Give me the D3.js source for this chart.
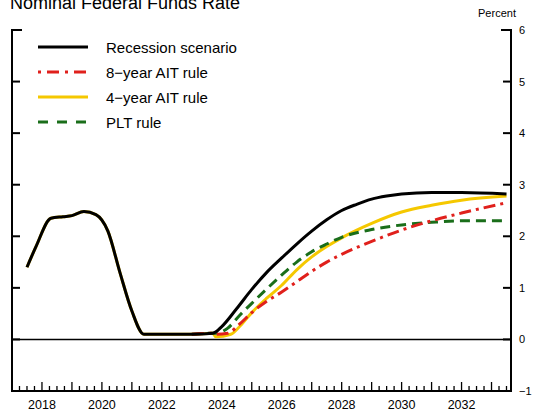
<!DOCTYPE html><html><head><meta charset="utf-8"><script src="https://d3js.org/d3.v7.min.js"></script>
<style>body{margin:0;background:#fff}</style></head><body><script>
const years=[2018,2020,2022,2024,2026,2028,2030,2032];
const yTicks=[-1,0,1,2,3,4,5,6];
const common=[[2017.5,1.4],[2017.8,1.8],[2018.3,2.35],[2018.7,2.38],[2019.0,2.4],[2019.4,2.48],[2019.8,2.42],[2020.2,2.1],[2020.6,1.3],[2021.0,0.55],[2021.4,0.1],[2022,0.1],[2023,0.1],[2023.7,0.12]];
const recession=[[2024.0,0.25],[2024.5,0.6],[2025,0.97],[2025.5,1.3],[2026,1.58],[2026.5,1.85],[2027,2.1],[2027.5,2.32],[2028,2.5],[2028.5,2.62],[2029,2.72],[2029.5,2.78],[2030,2.82],[2031,2.85],[2032,2.85],[2033.5,2.82]];
const ait8=[[2023.8,0.1],[2024.2,0.12],[2024.6,0.3],[2025,0.52],[2025.5,0.74],[2026,0.92],[2026.5,1.12],[2027,1.32],[2027.5,1.5],[2028,1.65],[2029,1.9],[2030,2.12],[2031,2.3],[2032,2.45],[2033.5,2.65]];
const ait4=[[2023.8,0.05],[2024.3,0.1],[2024.7,0.32],[2025,0.52],[2025.5,0.8],[2026,1.05],[2026.5,1.35],[2027,1.6],[2027.5,1.8],[2028,1.97],[2029,2.25],[2030,2.47],[2031,2.6],[2032,2.7],[2033.5,2.78]];
const plt=[[2023.8,0.12],[2024.2,0.22],[2024.6,0.47],[2025,0.7],[2025.5,0.98],[2026,1.25],[2026.5,1.5],[2027,1.7],[2027.5,1.85],[2028,1.98],[2029,2.13],[2030,2.22],[2031,2.27],[2032,2.3],[2033.5,2.3]];
const W=551,H=415,L=12,R=511,T=30,B=391;
const svg=d3.select("body").append("svg").attr("width",W).attr("height",H).style("font-family","Liberation Sans, Arial");
const x=d3.scaleLinear().domain([2017,2033.65]).range([L,R]);
const y=d3.scaleLinear().domain([-1,6]).range([B,T]);
svg.append("text").attr("x",10).attr("y",9).attr("font-size",18).text("Nominal Federal Funds Rate");
svg.append("text").attr("x",497).attr("y",17).attr("font-size",11).attr("text-anchor","middle").text("Percent");
svg.append("path").attr("d",`M${L+10},${T}H${L}V${B}H${R}V${T}H${R-10}`).attr("fill","none").attr("stroke","#000").attr("stroke-width",2);
yTicks.forEach(t=>{const yy=y(t);
 if(t>-1&&t<6){svg.append("line").attr("x1",L).attr("x2",L+8).attr("y1",yy).attr("y2",yy).attr("stroke","#000").attr("stroke-width",2);
 svg.append("line").attr("x1",R-8).attr("x2",R).attr("y1",yy).attr("y2",yy).attr("stroke","#000").attr("stroke-width",2);}
 svg.append("text").attr("x",R+8).attr("y",yy+4).attr("font-size",11).text(t<0?"\u2212"+(-t):t);});
svg.append("line").attr("x1",L).attr("x2",R).attr("y1",y(0)).attr("y2",y(0)).attr("stroke","#000").attr("stroke-width",1.5);
d3.range(2017,2033.6,0.25).forEach(q=>{if(q<=2017)return;const maj=Math.abs(q-Math.round(q))<1e-6;
 svg.append("line").attr("x1",x(q)).attr("x2",x(q)).attr("y1",B).attr("y2",B-(maj?9:5)).attr("stroke","#000").attr("stroke-width",1.3);});
years.forEach(yr=>svg.append("text").attr("x",x(yr)).attr("y",B+18).attr("font-size",12.5).attr("text-anchor","middle").text(yr));
const line=d3.line().x(d=>x(d[0])).y(d=>y(d[1])).curve(d3.curveMonotoneX);
const base=common;
const g=svg.append("g");
g.append("path").attr("d",line(base.concat(ait4))).attr("fill","none").attr("stroke","#f5c800").attr("stroke-width",3);
g.append("path").attr("d",line(base.slice(-2).concat(plt))).attr("fill","none").attr("stroke","#1a6e1a").attr("stroke-width",3).attr("stroke-dasharray","10,6");
g.append("path").attr("d",line(base.slice(-2).concat(ait8))).attr("fill","none").attr("stroke","#e0201c").attr("stroke-width",3).attr("stroke-dasharray","12,5,3,5");
g.append("path").attr("d",line(base.concat(recession))).attr("fill","none").attr("stroke","#000").attr("stroke-width",3);
const leg=[["Recession scenario","#000",null],["8\u2212year AIT rule","#e0201c","3,6,12,6"],["4\u2212year AIT rule","#f5c800",null],["PLT rule","#1a6e1a","10,9"]];
leg.forEach((l,i)=>{const yy=47+i*25;
 svg.append("line").attr("x1",38).attr("x2",88).attr("y1",yy).attr("y2",yy).attr("stroke",l[1]).attr("stroke-width",3).attr("stroke-dasharray",l[2]);
 svg.append("text").attr("x",106).attr("y",yy+6).attr("font-size",15).text(l[0]);});
</script></body></html>
